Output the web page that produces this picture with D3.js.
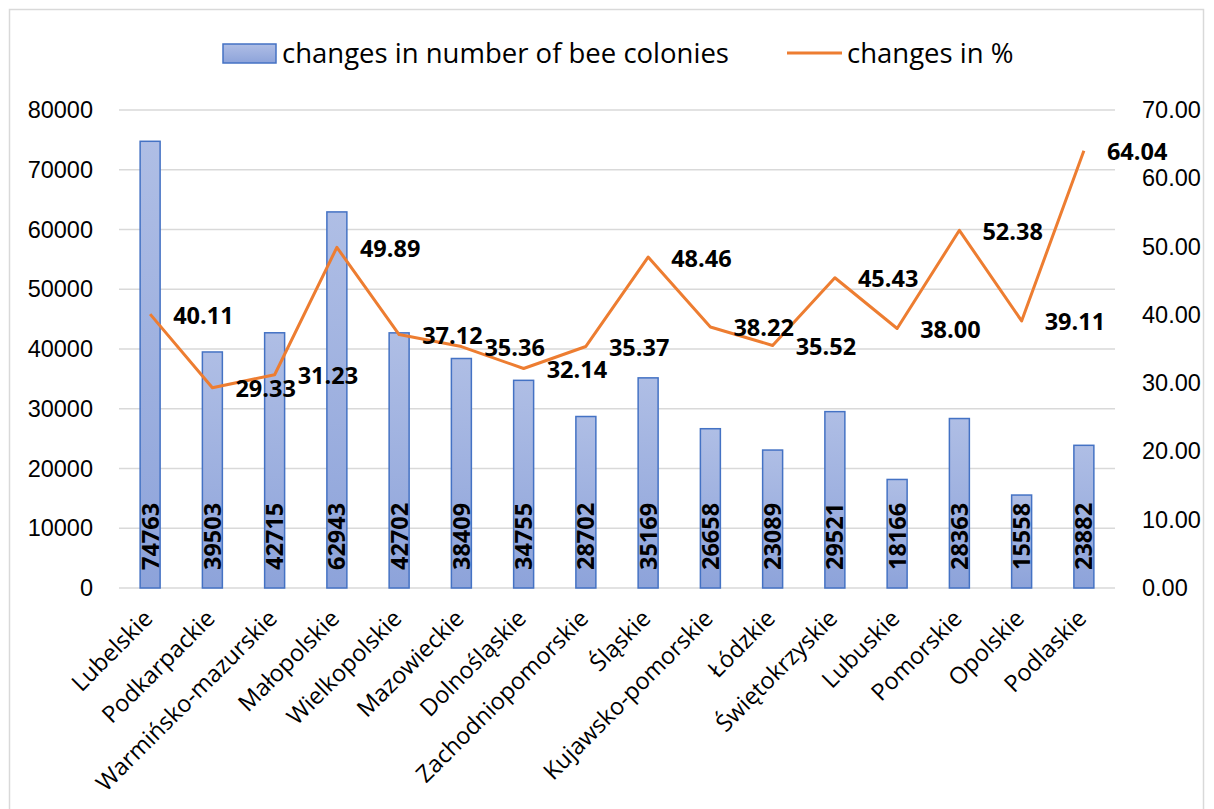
<!DOCTYPE html>
<html>
<head>
<meta charset="utf-8">
<script src="https://cdn.jsdelivr.net/npm/d3@7"></script>
<style>
  html, body { margin: 0; padding: 0; background: #fff; }
  svg { display: block; font-family: "Open Sans", Lato, sans-serif; }
</style>
</head>
<body>
<svg id="chart" width="1214" height="809"></svg>
<script>
// Voivodeships and their changes in number of bee colonies / changes in %
const regions = ["Lubelskie", "Podkarpackie", "Warmińsko-mazurskie", "Małopolskie", "Wielkopolskie",
  "Mazowieckie", "Dolnośląskie", "Zachodniopomorskie", "Śląskie", "Kujawsko-pomorskie", "Łódzkie",
  "Świętokrzyskie", "Lubuskie", "Pomorskie", "Opolskie", "Podlaskie"];
const colonyChanges = [74763, 39503, 42715, 62943, 42702, 38409, 34755, 28702, 35169, 26658, 23089,
  29521, 18166, 28363, 15558, 23882];
const percentChanges = [40.11, 29.33, 31.23, 49.89, 37.12, 35.36, 32.14, 35.37, 48.46, 38.22, 35.52,
  45.43, 38.00, 52.38, 39.11, 64.04];
const leftTicks = [0, 10000, 20000, 30000, 40000, 50000, 60000, 70000, 80000];
const rightTicks = [0, 10, 20, 30, 40, 50, 60, 70];
const seriesNames = ["changes in number of bee colonies", "changes in %"];

const svg = d3.select("#chart");
const plot = { left: 119, right: 1115, top: 110, bottom: 588 };
const axisFont = 23.5;

// Outer frame
svg.append("rect")
  .attr("x", 9.5).attr("y", 9.5).attr("width", 1194).attr("height", 820)
  .attr("fill", "none").attr("stroke", "#d9d9d9").attr("stroke-width", 1.5);

const x = d3.scaleBand().domain(regions)
  .range([plot.left, plot.right]).paddingInner(0.679).paddingOuter(0.3395);
const yL = d3.scaleLinear().domain([0, 80000]).range([plot.bottom, plot.top]);
const yR = d3.scaleLinear().domain([0, 70]).range([plot.bottom, plot.top]);
const cx = i => x(regions[i]) + x.bandwidth() / 2;

// Bar fill gradient
const defs = svg.append("defs");
const grad = defs.append("linearGradient").attr("id", "barFill")
  .attr("x1", 0).attr("y1", 0).attr("x2", 0).attr("y2", 1);
grad.append("stop").attr("offset", "0%").attr("stop-color", "#afbee5");
grad.append("stop").attr("offset", "100%").attr("stop-color", "#8da3da");

// Gridlines
svg.append("g")
  .selectAll("line").data(leftTicks).join("line")
  .attr("x1", plot.left).attr("x2", plot.right)
  .attr("y1", d => yL(d)).attr("y2", d => yL(d))
  .attr("stroke", "#d9d9d9").attr("stroke-width", 1.5);

// Left axis
const axL = svg.append("g").attr("transform", `translate(93,0)`)
  .call(d3.axisLeft(yL).tickValues(leftTicks).tickSize(0).tickPadding(0).tickFormat(d3.format("d")));
axL.select(".domain").remove();
axL.selectAll("text").attr("font-size", axisFont).attr("fill", "#000").attr("font-family", null);

// Right axis
const axR = svg.append("g").attr("transform", `translate(1142,0)`)
  .call(d3.axisRight(yR).tickValues(rightTicks).tickSize(0).tickPadding(0).tickFormat(d3.format(".2f")));
axR.select(".domain").remove();
axR.selectAll("text").attr("font-size", axisFont).attr("fill", "#000").attr("font-family", null);

// Bars
svg.append("g").selectAll("rect").data(colonyChanges).join("rect")
  .attr("x", (d, i) => x(regions[i]))
  .attr("y", d => yL(d))
  .attr("width", x.bandwidth())
  .attr("height", d => yL(0) - yL(d))
  .attr("fill", "url(#barFill)")
  .attr("stroke", "#4472c4").attr("stroke-width", 1.5);

// Bar value labels (inside base, rotated)
svg.append("g").selectAll("text").data(colonyChanges).join("text")
  .attr("transform", (d, i) => `translate(${cx(i)},${plot.bottom - 18}) rotate(-90)`)
  .attr("text-anchor", "start").attr("dy", "0.36em")
  .attr("font-size", axisFont).attr("font-weight", "bold").attr("fill", "#000")
  .text(d => d);

// Percentage line
const line = d3.line().x((d, i) => cx(i)).y(d => yR(d));
svg.append("path").datum(percentChanges)
  .attr("d", line).attr("fill", "none")
  .attr("stroke", "#ed7d31").attr("stroke-width", 3).attr("stroke-linejoin", "round");

// Percentage labels to the right of each point
svg.append("g").selectAll("text").data(percentChanges).join("text")
  .attr("x", (d, i) => cx(i) + 23)
  .attr("y", d => yR(d) + 1)
  .attr("dy", "0.36em")
  .attr("font-size", axisFont).attr("font-weight", "bold").attr("fill", "#000")
  .text(d => d.toFixed(2));

// Category labels
svg.append("g").selectAll("text").data(regions).join("text")
  .attr("transform", (d, i) => `translate(${cx(i) + 4},${plot.bottom + 32}) rotate(-45)`)
  .attr("text-anchor", "end")
  .attr("font-size", axisFont).attr("fill", "#000")
  .text(d => d);

// Legend
const lg = svg.append("g");
lg.append("rect").attr("x", 223).attr("y", 44).attr("width", 53).attr("height", 19)
  .attr("fill", "url(#barFill)").attr("stroke", "#4472c4").attr("stroke-width", 1.5);
lg.append("text").attr("x", 282).attr("y", 53).attr("dy", "0.36em")
  .attr("font-size", 27.5).attr("fill", "#000").text(seriesNames[0]);
lg.append("line").attr("x1", 787).attr("x2", 842).attr("y1", 53).attr("y2", 53)
  .attr("stroke", "#ed7d31").attr("stroke-width", 3);
lg.append("text").attr("x", 847).attr("y", 53).attr("dy", "0.36em")
  .attr("font-size", 27.5).attr("fill", "#000").text(seriesNames[1]);
</script>
</body>
</html>
